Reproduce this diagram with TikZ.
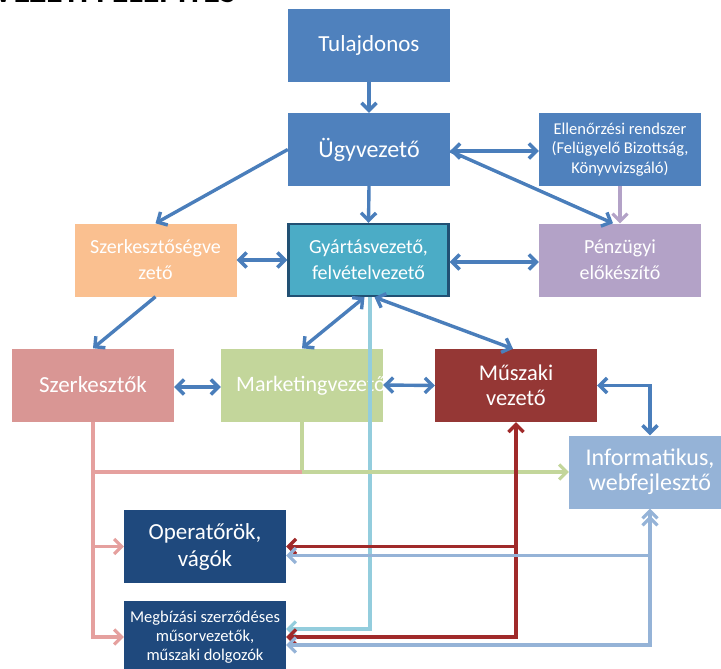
\documentclass[tikz,border=0pt]{standalone}
\usepackage{fontspec}
\setmainfont{Carlito}
\usetikzlibrary{arrows.meta,calc}
\definecolor{obl}{RGB}{79,129,189}
\definecolor{arrb}{RGB}{74,126,187}
\definecolor{orng}{RGB}{250,192,144}
\definecolor{teal}{RGB}{75,172,198}
\definecolor{tealb}{RGB}{33,80,115}
\definecolor{lav}{RGB}{179,162,199}
\definecolor{rose}{RGB}{217,150,148}
\definecolor{lgrn}{RGB}{195,214,155}
\definecolor{dred}{RGB}{149,55,53}
\definecolor{stl}{RGB}{149,179,215}
\definecolor{navy}{RGB}{31,73,125}
\definecolor{lbl}{RGB}{147,205,221}
\definecolor{pnk}{RGB}{229,160,158}
\definecolor{redl}{RGB}{160,42,42}
\begin{document}
\begin{tikzpicture}[x=1pt,y=-1pt,
  >={Straight Barb[length=7.5pt,width=15pt]},
  box/.style={rectangle, minimum width=162pt, minimum height=73pt, inner sep=0pt, text=white, align=center},
  conn/.style={line width=3.4pt, draw=arrb},
  thin/.style={line width=3.1pt}]
\useasboundingbox (0,0) rectangle (721,669);
\begin{scope}
\clip (0,0) rectangle (721,669);
% title (cut off at the top)
\node[anchor=base east, inner sep=0pt, font=\fontsize{34}{40}\selectfont\bfseries] (title) at (236,3) {SZERVEZETI FELÉPÍTÉS};
% boxes
\node[box, fill=obl, font=\fontsize{23}{26}\selectfont] (tul) at (369,45.5) {Tulajdonos};
\node[box, fill=obl, font=\fontsize{24}{27}\selectfont] (ugy) at (369,149.5) {Ügyvezető};
\node[box, fill=obl, font=\fontsize{16.5}{19.5}\selectfont] (ell) at (620,149.5) {Ellenőrzési rendszer\\(Felügyelő Bizottság,\\Könyvvizsgáló)};
\node[box, fill=orng, font=\fontsize{20}{26}\selectfont] (szv) at (155.5,260) {Szerkesztőségve\\zető};
\node[box, fill=teal, draw=tealb, line width=2.4pt, minimum width=160pt, minimum height=72pt, font=\fontsize{20}{26}\selectfont] (gyar) at (368.5,260) {Gyártásvezető,\\felvételvezető};
\node[box, fill=lav, font=\fontsize{20}{26}\selectfont] (pen) at (620,260) {Pénzügyi\\előkészítő};
\node[box, fill=rose, font=\fontsize{23}{26}\selectfont] (szk) at (93,385) {Szerkesztők};
\node[box, fill=lgrn] (mkt) at (302,385) {};
\node[anchor=west, inner sep=0pt, text=white, font=\fontsize{22}{26}\selectfont] (mkttext) at (236,386) {Marketingvezető};
\node[box, fill=dred, font=\fontsize{22.5}{25}\selectfont] (musz) at (516,385.5) {Műszaki\\vezető};
\node[box, fill=stl, font=\fontsize{24}{25}\selectfont] (inf) at (650,472) {Informatikus,\\webfejlesztő};
\node[box, fill=navy, font=\fontsize{23}{27}\selectfont] (op) at (205,546.5) {Operatőrök,\\vágók};
\node[box, fill=navy, font=\fontsize{16.5}{19}\selectfont] (meg) at (205,637) {Megbízási szerződéses\\műsorvezetők,\\műszaki dolgozók};
\end{scope}
% blue connectors
\draw[conn,->] (tul.south) -- (ugy.north);
\draw[conn,->] (ugy.south) -- (gyar.north);
\draw[conn,<->] ([yshift=-1.5pt]ugy.east) -- ([yshift=-1.5pt]ell.west);
\draw[conn,->] ([yshift=-1.5pt]ugy.east) -- ($(pen.north)+(-7,0)$);
\draw[conn,->] (ugy.west) -- (szv.north);
\draw[conn,<->] (szv.east) -- (gyar.west);
\draw[conn,<->] ([yshift=-2pt]gyar.east) -- ([yshift=-2pt]pen.west);
\draw[conn,->] (szv.south) -- (szk.north);
\draw[conn,<->] ([yshift=-2pt]szk.east) -- ([yshift=-2pt]mkt.west);
\draw[conn,<->] ([xshift=-4pt]gyar.south) -- (mkt.north);
\draw[conn,<->] ([xshift=6pt]gyar.south) -- ([xshift=-3pt]musz.north);
\draw[conn,<->] (mkt.east) -- (musz.west);
\draw[conn,<->] (musz.east) -| (inf.north);
% purple
\draw[thin, draw=lav, ->] (ell.south) -- (pen.north);
% light blue
\draw[thin, draw=lbl, ->] ([xshift=1.5pt]gyar.south) |- ([yshift=8pt]meg.east);
% green
\draw[thin, draw=lgrn, ->] (mkt.south) |- (inf.west);
% pink
\draw[thin, draw=pnk] (szk.south |- inf.west) -- (mkt.south |- inf.west);
\draw[thin, draw=pnk, ->] (szk.south) |- (meg.west);
\draw[thin, draw=pnk, ->] (szk.south |- op.west) -- (op.west);
% dark red
\draw[line width=3.3pt, draw=redl, <->] (musz.south) |- (meg.east);
\draw[line width=3.3pt, draw=redl, ->] (musz.south |- op.east) -- (op.east);
% steel
\draw[thin, draw=stl, <->] (inf.south) |- ([yshift=-8pt]meg.east);
\draw[thin, draw=stl, <->] ([yshift=-7pt]inf.south) |- ([yshift=-9pt]op.east);
\end{tikzpicture}
\end{document}
